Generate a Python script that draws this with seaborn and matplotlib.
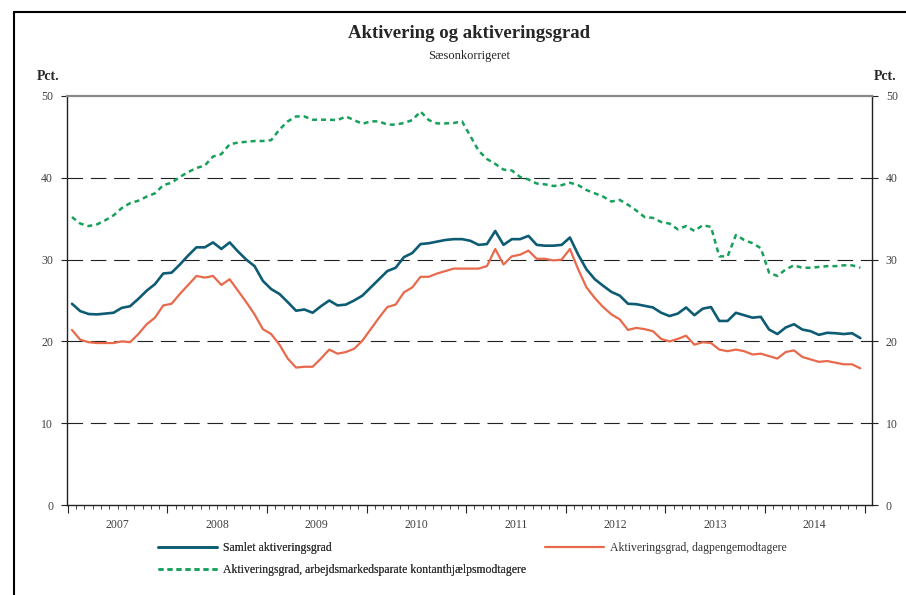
import numpy as np
import pandas as pd
import matplotlib
matplotlib.use("Agg")
import matplotlib.pyplot as plt
import seaborn as sns
from matplotlib.lines import Line2D
from matplotlib.ticker import MultipleLocator, FixedLocator

# Monthly data, Jan 2007 - Dec 2014
months = pd.period_range("2007-01", "2014-12", freq="M")
years = list(range(2007, 2015))

samlet = [
    24.6, 23.7, 23.35, 23.3, 23.4, 23.5, 24.1, 24.3, 25.2, 26.2, 27.0, 28.3,
    28.4, 29.4, 30.5, 31.5, 31.5, 32.1, 31.3, 32.1, 31.0, 30.0, 29.2, 27.4,
    26.4, 25.8, 24.8, 23.75, 23.9, 23.5, 24.3, 25.0, 24.4, 24.5, 25.0, 25.6,
    26.6, 27.6, 28.6, 29.0, 30.3, 30.8, 31.9, 32.0, 32.2, 32.4, 32.5, 32.5,
    32.3, 31.8, 31.9, 33.5, 31.8, 32.5, 32.5, 32.9, 31.8, 31.7, 31.7, 31.8,
    32.7, 30.6, 28.8, 27.6, 26.8, 26.05, 25.6, 24.6, 24.55, 24.35, 24.15, 23.5,
    23.1, 23.4, 24.15, 23.2, 24.0, 24.2, 22.5, 22.5, 23.5, 23.2, 22.9, 23.0,
    21.45, 20.9, 21.7, 22.1, 21.45, 21.25, 20.8, 21.05, 21.0, 20.9, 21.0, 20.4,
]
dagpenge = [
    21.4, 20.2, 19.9, 19.8, 19.8, 19.8, 20.0, 19.9, 20.9, 22.1, 22.9, 24.4,
    24.6, 25.8, 26.9, 28.0, 27.8, 28.0, 26.9, 27.6, 26.2, 24.8, 23.3, 21.5,
    20.9, 19.6, 17.9, 16.8, 16.9, 16.9, 17.9, 19.0, 18.5, 18.7, 19.1, 20.1,
    21.5, 22.9, 24.2, 24.5, 26.0, 26.6, 27.9, 27.9, 28.3, 28.6, 28.9, 28.9,
    28.9, 28.9, 29.2, 31.3, 29.4, 30.4, 30.6, 31.1, 30.1, 30.1, 29.9, 30.0,
    31.3, 28.8, 26.6, 25.3, 24.2, 23.3, 22.7, 21.4, 21.65, 21.5, 21.25, 20.3,
    20.0, 20.3, 20.7, 19.6, 19.9, 19.8, 19.0, 18.8, 19.0, 18.8, 18.4, 18.5,
    18.2, 17.9, 18.7, 18.9, 18.1, 17.8, 17.5, 17.6, 17.4, 17.2, 17.2, 16.7,
]
kontant = [
    35.2, 34.4, 34.1, 34.3, 34.8, 35.4, 36.3, 36.9, 37.2, 37.7, 38.1, 39.1,
    39.4, 40.1, 40.7, 41.2, 41.5, 42.6, 42.9, 44.1, 44.3, 44.4, 44.5, 44.5,
    44.6, 45.9, 46.9, 47.5, 47.5, 47.1, 47.1, 47.1, 47.05, 47.5, 47.05, 46.6,
    46.9, 46.9, 46.5, 46.5, 46.7, 47.05, 48.1, 47.05, 46.65, 46.65, 46.7, 46.9,
    45.1, 43.3, 42.3, 41.7, 41.0, 40.9, 40.1, 39.8, 39.3, 39.2, 39.0, 39.1,
    39.4, 39.1, 38.5, 38.1, 37.7, 37.1, 37.3, 36.7, 36.0, 35.2, 35.1, 34.6,
    34.4, 33.7, 34.1, 33.5, 34.2, 34.0, 30.4, 30.4, 33.0, 32.4, 32.0, 31.4,
    28.4, 28.0, 28.8, 29.3, 29.0, 29.0, 29.1, 29.2, 29.2, 29.3, 29.3, 29.0,
]

labels = [
    "Samlet aktiveringsgrad",
    "Aktiveringsgrad, dagpengemodtagere",
    "Aktiveringsgrad, arbejdsmarkedsparate kontanthjælpsmodtagere",
]
colors = ["#0e5c74", "#e8694b", "#17a05a"]

df = pd.DataFrame({
    "t": np.arange(len(months)) + 0.5,
    "samlet": samlet,
    "dagpenge": dagpenge,
    "kontant": kontant,
})

sns.set_style("white")
plt.rcParams["font.family"] = ["Liberation Serif", "DejaVu Serif"]

fig = plt.figure(figsize=(9.06, 5.95), dpi=100)
ax = fig.add_axes([67 / 906, 1 - 505 / 595, 805 / 906, 409 / 595])

# horizontal dashed gridlines
for v in [10, 20, 30, 40]:
    ax.axhline(v, color="#222222", lw=0.8, ls=(0, (14, 7)), zorder=1)

sns.lineplot(data=df, x="t", y="samlet", ax=ax, color=colors[0], lw=1.9, zorder=3)
sns.lineplot(data=df, x="t", y="dagpenge", ax=ax, color=colors[1], lw=1.6, zorder=3)
sns.lineplot(data=df, x="t", y="kontant", ax=ax, color=colors[2], lw=1.8,
             ls=(0, (2, 1.6)), zorder=3)

ax.set_xlim(-0.1, 96.9)
ax.set_ylim(0, 50)
ax.set_xlabel("")
ax.set_ylabel("")

# y axis on both sides
ax.yaxis.set_major_locator(MultipleLocator(10))
ax.tick_params(axis="y", which="major", left=True, right=True, labelleft=True,
               labelright=True, direction="out", length=4, width=0.8,
               color="#222222", labelsize=8.5, labelcolor="#404040", pad=6)

# x axis: year boundaries (major), months (minor), year labels centred
ax.xaxis.set_major_locator(FixedLocator([12 * k for k in range(len(years) + 1)]))
ax.xaxis.set_minor_locator(FixedLocator(list(range(len(months) + 1))))
ax.tick_params(axis="x", which="major", direction="out", length=6, width=0.8,
               color="#222222", labelbottom=False, bottom=True)
ax.tick_params(axis="x", which="minor", direction="out", length=3, width=0.6,
               color="#222222", bottom=True)
for k, yr in enumerate(years):
    ax.text(12 * k + 6, -0.035, str(yr), transform=ax.get_xaxis_transform(),
            ha="center", va="top", fontsize=8.5, color="#404040")

for side in ["left", "right", "bottom"]:
    ax.spines[side].set_color("#222222")
    ax.spines[side].set_linewidth(1.0)
ax.spines["top"].set_color("#888888")
ax.spines["top"].set_linewidth(1.6)

# titles
fig.text(469.5 / 906, 1 - 34 / 595, "Aktivering og aktiveringsgrad", ha="center",
         va="center", fontsize=13.5, fontweight="bold")
fig.text(469.5 / 906, 1 - 56 / 595, "Sæsonkorrigeret", ha="center", va="center",
         fontsize=9)
fig.text(48 / 906, 1 - 77 / 595, "Pct.", ha="center", va="center", fontsize=10,
         fontweight="bold")
fig.text(885 / 906, 1 - 77 / 595, "Pct.", ha="center", va="center", fontsize=10,
         fontweight="bold")

# legend in two blocks
h_samlet = Line2D([], [], color=colors[0], lw=1.9)
h_dag = Line2D([], [], color=colors[1], lw=1.6)
h_kont = Line2D([], [], color=colors[2], lw=1.8, ls=(0, (2, 1.6)))
leg_kw = dict(frameon=False, fontsize=8.5, handlelength=5.0, handletextpad=0.5,
              labelspacing=0.85, borderpad=0, borderaxespad=0, loc="upper left",
              labelcolor="#333333")
leg1 = fig.legend([h_samlet, h_kont], [labels[0], labels[2]],
                  bbox_to_anchor=(158 / 906, 1 - 542 / 595), **leg_kw)
fig.add_artist(leg1)
fig.legend([h_dag], [labels[1]], bbox_to_anchor=(545 / 906, 1 - 542 / 595), **leg_kw)

# outer frame (top and left edges visible in the screenshot)
fig.add_artist(Line2D([14 / 906, 14 / 906], [0, 1 - 12 / 595], color="black",
                      lw=1.5, transform=fig.transFigure))
fig.add_artist(Line2D([14 / 906, 1], [1 - 12 / 595, 1 - 12 / 595], color="black",
                      lw=1.5, transform=fig.transFigure))

fig.savefig("out.png", dpi=100)
